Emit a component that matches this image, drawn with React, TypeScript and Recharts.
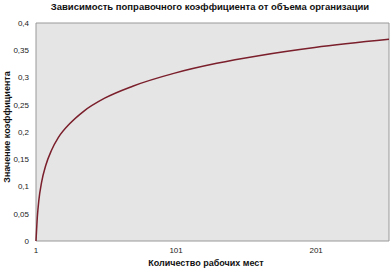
import { LineChart, Line, XAxis, YAxis, ReferenceArea } from 'recharts';

const workplaces = [1, 2, 3, 5, 8, 12, 17, 25, 35, 50, 70, 100, 130, 160, 200, 253];
const coefficient = [0, 0.046, 0.074, 0.108, 0.139, 0.166, 0.19, 0.215, 0.238, 0.262, 0.284, 0.308, 0.326, 0.34, 0.355, 0.37];
const xTicks = [1, 101, 201];
const yTicks = [0, 0.05, 0.1, 0.15, 0.2, 0.25, 0.3, 0.35, 0.4];

const title = 'Зависимость поправочного коэффициента от объема организации';
const xLabel = 'Количество рабочих мест';
const yLabel = 'Значение коэффициента';

const data = workplaces.map((n, i) => ({ n, k: coefficient[i] }));

const FONT = '"Liberation Sans", Arial, sans-serif';
const tickStyle = { fill: '#222', fontSize: 8, fontFamily: FONT };

export default function App() {
  return (
    <div style={{ position: 'absolute', left: 0, top: 0, width: 390, height: 272, background: '#fff', fontFamily: FONT }}>
      <div style={{ position: 'absolute', top: 0, left: 0, width: 420, textAlign: 'center', fontSize: 9.5, fontWeight: 700, lineHeight: '13px', color: '#111' }}>
        {title}
      </div>
      <div style={{ position: 'absolute', left: 0, top: 257, width: 412, textAlign: 'center', fontSize: 9, fontWeight: 700, lineHeight: '13px', color: '#111' }}>
        {xLabel}
      </div>
      <div style={{ position: 'absolute', left: 7, top: 127, width: 0, height: 0 }}>
        <div style={{ position: 'absolute', transform: 'translate(-50%, -50%) rotate(-90deg)', whiteSpace: 'nowrap', fontSize: 9, fontWeight: 700, lineHeight: '13px', color: '#111' }}>
          {yLabel}
        </div>
      </div>
      <div style={{ position: 'absolute', left: 0, top: 0 }}>
        <LineChart width={390} height={272} data={data} margin={{ top: 23, right: 1, bottom: 0, left: 0 }}>
          <ReferenceArea x1={1} x2={253} y1={0} y2={0.4} fill="#e5e5e5" fillOpacity={1} stroke="#999" strokeWidth={1} />
          <XAxis
            dataKey="n"
            type="number"
            domain={[1, 253]}
            ticks={xTicks}
            height={31}
            tick={tickStyle}
            tickLine={false}
            axisLine={false}
            tickSize={4}
            tickMargin={2}
          />
          <YAxis
            type="number"
            domain={[0, 0.4]}
            ticks={yTicks}
            width={36}
            tick={tickStyle}
            tickLine={false}
            axisLine={false}
            tickSize={5}
            tickMargin={2}
            tickFormatter={(v: number) => String(v).replace('.', ',')}
          />
          <Line
            dataKey="k"
            type="monotone"
            stroke="#7a1f2b"
            strokeWidth={1.5}
            dot={false}
            isAnimationActive={false}
          />
        </LineChart>
      </div>
    </div>
  );
}
